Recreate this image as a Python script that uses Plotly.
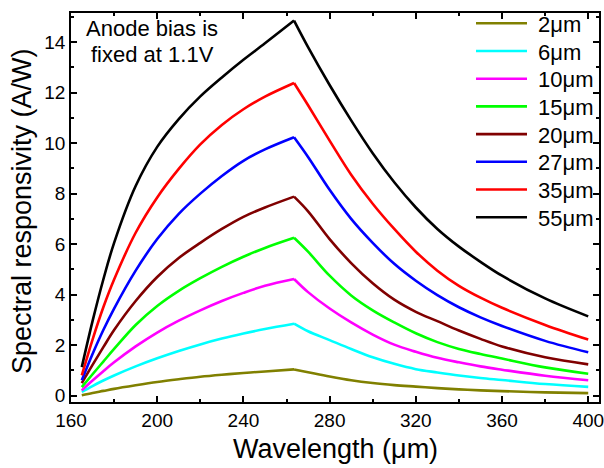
import plotly.graph_objects as go

wavelength = [165, 170, 175, 180, 190, 200, 210, 220, 230, 240, 250, 263.5,
              270, 280, 290, 300, 310, 320, 330, 340, 350, 360, 380, 400]
peak_index = 11  # 263.5 um, where every curve turns over

r_2um  = [0.02, 0.11, 0.19, 0.27, 0.41, 0.54, 0.65, 0.75, 0.83, 0.90, 0.96, 1.04,
          0.93, 0.76, 0.61, 0.50, 0.42, 0.36, 0.30, 0.25, 0.21, 0.18, 0.13, 0.10]
r_6um  = [0.15, 0.38, 0.60, 0.80, 1.16, 1.48, 1.77, 2.03, 2.26, 2.46, 2.64, 2.85,
          2.55, 2.20, 1.85, 1.52, 1.26, 1.05, 0.92, 0.80, 0.70, 0.62, 0.46, 0.35]
r_10um = [0.21, 0.60, 0.97, 1.32, 1.95, 2.50, 2.97, 3.38, 3.75, 4.07, 4.35, 4.62,
          4.10, 3.45, 2.90, 2.42, 2.02, 1.74, 1.50, 1.32, 1.16, 1.03, 0.79, 0.61]
r_15um = [0.34, 0.85, 1.35, 1.85, 2.80, 3.55, 4.15, 4.65, 5.10, 5.50, 5.85, 6.25,
          5.70, 4.75, 3.97, 3.38, 2.90, 2.47, 2.12, 1.85, 1.65, 1.47, 1.12, 0.87]
r_20um = [0.50, 1.22, 1.92, 2.60, 3.75, 4.70, 5.45, 6.05, 6.60, 7.08, 7.45, 7.88,
          7.30, 6.20, 5.25, 4.45, 3.80, 3.32, 2.95, 2.58, 2.25, 1.95, 1.52, 1.24]
r_27um = [0.61, 1.65, 2.60, 3.45, 4.95, 6.20, 7.20, 8.00, 8.70, 9.30, 9.75, 10.23,
          9.45, 8.15, 7.00, 6.05, 5.22, 4.55, 3.98, 3.50, 3.10, 2.76, 2.17, 1.72]
r_35um = [0.80, 2.22, 3.50, 4.60, 6.45, 7.85, 8.98, 9.95, 10.72, 11.34, 11.84, 12.38,
          11.50, 10.10, 8.75, 7.60, 6.60, 5.70, 4.95, 4.35, 3.88, 3.48, 2.80, 2.22]
r_55um = [1.13, 2.95, 4.60, 6.05, 8.30, 9.85, 10.95, 11.85, 12.60, 13.30, 13.95, 14.85,
          13.80, 12.30, 10.90, 9.60, 8.45, 7.45, 6.60, 5.90, 5.30, 4.75, 3.85, 3.14]

series_names = ["2\u03bcm", "6\u03bcm", "10\u03bcm", "15\u03bcm",
                "20\u03bcm", "27\u03bcm", "35\u03bcm", "55\u03bcm"]
series_values = [r_2um, r_6um, r_10um, r_15um, r_20um, r_27um, r_35um, r_55um]
colors = ["#808000", "#00FFFF", "#FF00FF", "#00FF00",
          "#800000", "#0000FF", "#FF0000", "#000000"]

x_ticks = [160, 200, 240, 280, 320, 360, 400]
y_ticks = [0, 2, 4, 6, 8, 10, 12, 14]

FONT = "Liberation Sans, Arial, sans-serif"
LW = 2.6

fig = go.Figure()
for name, vals, col in zip(series_names, series_values, colors):
    # rising branch and falling branch, each smoothed, meeting at the sharp peak
    fig.add_trace(go.Scatter(x=wavelength[:peak_index + 1], y=vals[:peak_index + 1],
                             mode="lines", name=name, showlegend=False,
                             line=dict(color=col, width=LW, shape="spline", smoothing=1.0)))
    fig.add_trace(go.Scatter(x=wavelength[peak_index:], y=vals[peak_index:],
                             mode="lines", name=name, showlegend=False,
                             line=dict(color=col, width=LW, shape="spline", smoothing=1.0)))

L, T, W, H = 71, 13, 528, 389
def px_x(p):
    return (p - L) / W
def px_y(p):
    return (T + H - p) / H

shapes = []
annotations = []
for i, (name, col) in enumerate(zip(series_names, colors)):
    yy = 23.3 + i * 27.7
    shapes.append(dict(type="line", xref="paper", yref="paper",
                       x0=px_x(476), x1=px_x(527), y0=px_y(yy), y1=px_y(yy),
                       line=dict(color=col, width=LW)))
    annotations.append(dict(xref="paper", yref="paper", x=px_x(536), y=px_y(yy + 1),
                            text=name, showarrow=False, xanchor="left", yanchor="middle",
                            font=dict(family=FONT, size=22, color="black")))

for txt, yy in (("Anode bias is", 28), ("fixed at 1.1V", 55)):
    annotations.append(dict(xref="paper", yref="paper", x=px_x(152), y=px_y(yy),
                            text=txt, showarrow=False, xanchor="center", yanchor="middle",
                            font=dict(family=FONT, size=22, color="black")))

annotations.append(dict(xref="paper", yref="paper", x=px_x(335), y=px_y(449),
                        text="Wavelength (\u03bcm)", showarrow=False,
                        xanchor="center", yanchor="middle",
                        font=dict(family=FONT, size=27, color="black")))
annotations.append(dict(xref="paper", yref="paper", x=px_x(22), y=px_y(211),
                        text="Spectral responsivity (A/W)", showarrow=False, textangle=-90,
                        xanchor="center", yanchor="middle",
                        font=dict(family=FONT, size=27, color="black")))

axis_common = dict(showline=True, linecolor="black", linewidth=1.5, mirror="allticks",
                   ticks="inside", ticklen=6, tickwidth=1.5, tickcolor="black",
                   showgrid=False, zeroline=False, automargin=False,
                   ticklabeloverflow="allow",
                   tickfont=dict(family=FONT, size=19, color="black"))

fig.update_layout(
    width=604, height=468,
    margin=dict(l=L, r=604 - L - W, t=T, b=468 - T - H, autoexpand=False),
    paper_bgcolor="white", plot_bgcolor="white",
    shapes=shapes, annotations=annotations,
    xaxis=dict(range=[160, 405], tickvals=x_ticks, ticktext=[str(v) for v in x_ticks],
               minor=dict(ticks="inside", ticklen=3, tickwidth=1.5, tickcolor="black", dtick=20),
               **axis_common),
    yaxis=dict(range=[-0.25, 15.15], tickvals=y_ticks, ticktext=[str(v) for v in y_ticks],
               minor=dict(ticks="inside", ticklen=3, tickwidth=1.5, tickcolor="black", dtick=1),
               **axis_common),
)

fig.write_html("out.html", config={"displayModeBar": False},
               post_script="document.body.style.margin='0';document.body.style.overflow='hidden';")
